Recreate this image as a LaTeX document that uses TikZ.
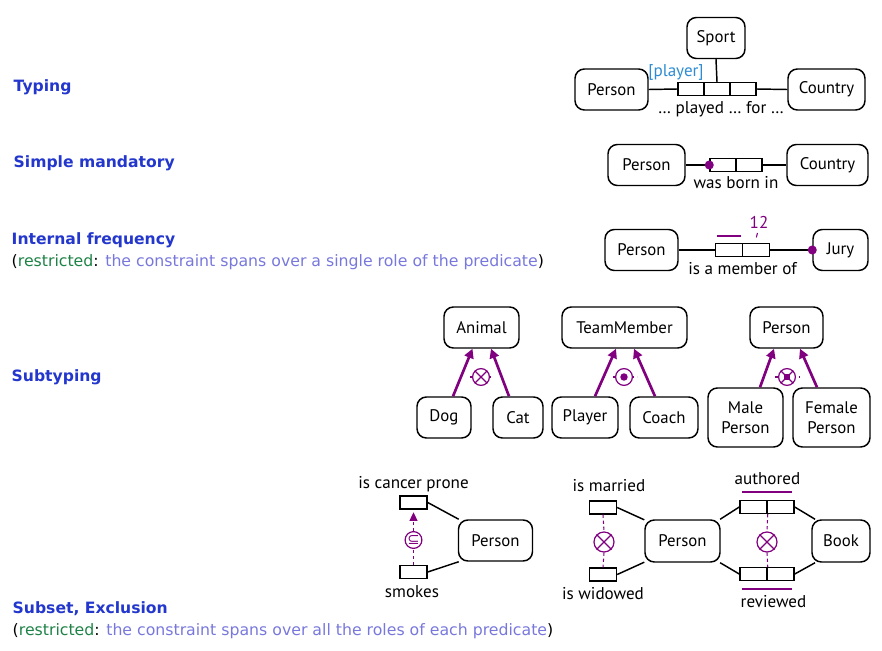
\documentclass[tikz,border=0pt]{standalone}
\usepackage{fontspec}
\setmainfont{PT Sans}
\newfontfamily\pagefont{DejaVu Sans}
\usetikzlibrary{arrows.meta}
\definecolor{ormviolet}{RGB}{128,0,128}
\definecolor{headblue}{RGB}{35,55,205}
\definecolor{restrgreen}{RGB}{30,130,70}
\definecolor{explblue}{RGB}{120,120,220}
\definecolor{roleblue}{RGB}{45,140,210}
\begin{document}
\begin{tikzpicture}[x=0.75pt,y=-0.75pt,line width=1.1pt,
	ent/.style={draw,rounded corners=7pt,minimum height=30.75pt,inner sep=0pt,font=\fontsize{12.6}{15}\selectfont},
	role/.style={draw,minimum width=19.5pt,minimum height=9.5pt,inner sep=0pt},
	lbl/.style={inner sep=0pt,font=\fontsize{12.8}{15}\selectfont},
	head/.style={anchor=west,inner sep=0pt,text=headblue,font=\pagefont\fontsize{11.7}{14}\selectfont\bfseries},
	note/.style={anchor=west,inner sep=0pt,font=\pagefont\fontsize{11.8}{14}\selectfont},
	subarr/.style={ormviolet,line width=2pt,-{Triangle[length=7pt,width=7pt]}},
	cons/.style={circle,draw=ormviolet,fill=white,line width=0.9pt,minimum size=12.6pt,inner sep=0pt},
	lnk/.style={ormviolet,line width=0.8pt,dash pattern=on 2.5pt off 2pt},
	uniq/.style={ormviolet,line width=1.5pt}]
\useasboundingbox (0,0) rectangle (882,650);
	%	\draw[gray!20] (0,0) grid[step=50] (882,650);
	% headings
	\path (13,87)node[head](htyp){Typing}
	(13,163)node[head](hmand){Simple mandatory}
	(11,240)node[head](hfreq){Internal frequency}
	(11,262)node[note](nfreq){(\textcolor{restrgreen}{restricted}: \textcolor{explblue}{the constraint spans over a single role of the predicate})}
	(11,377)node[head](hsubt){Subtyping}
	(12,609)node[head](hsubs){Subset, Exclusion}
	(12,631)node[note](nsubs){(\textcolor{restrgreen}{restricted}: \textcolor{explblue}{the constraint spans over all the roles of each predicate})};
	% typing
	\node[ent,minimum width=43.5pt] (sport) at (716,38) {Sport};
	\node[ent,minimum width=54.75pt] (per1) at (611.5,89.5) {Person};
	\node[ent,minimum width=57.75pt] (cty1) at (826.5,89.5) {Country};
	\node[role] (pf1) at (691,89) {};
	\node[role] (pf2) at (717,89) {};
	\node[role] (pf3) at (743,89) {};
	\draw (per1.east)--(pf1.west) (pf3.east)--(cty1.west) (sport.south)--(pf2.north);
	\path (676,72)node[lbl,text=roleblue](rname){[player]}
	(721,109)node[lbl](pfread){\dots\ played \dots\ for \dots};
	% simple mandatory
	\node[ent,minimum width=57.75pt] (per2) at (646.5,165) {Person};
	\node[ent,minimum width=60.75pt] (cty2) at (827.5,165) {Country};
	\node[role] (bi1) at (723,165) {};
	\node[role] (bi2) at (749,165) {};
	\draw (per2.east)--(bi1.west) (bi2.east)--(cty2.west);
	\fill[ormviolet] (bi1.west) circle (3.4pt);
	\node[lbl] (biread) at (736,183) {was born in};
	% internal frequency
	\node[ent,minimum width=54.75pt] (per3) at (641.5,250) {Person};
	\node[ent,minimum width=41.25pt] (jury) at (840.5,250) {Jury};
	\node[role,minimum width=20.25pt] (mo1) at (729,250) {};
	\node[role,minimum width=20.25pt] (mo2) at (756,250) {};
	\draw (per3.east)--(mo1.west) (mo2.east)--(jury.west);
	\fill[ormviolet] (jury.west) circle (3.4pt);
	\draw[uniq] ([shift={(2,-7)}]mo1.north west)--([shift={(-2,-7)}]mo1.north east);
	\node[lbl,text=ormviolet] (freq) at (759,222) {12};
	\draw[ormviolet,line width=0.8pt] ([shift={(1.5,-10)}]mo2.north)--([shift={(0.3,-5.5)}]mo2.north);
	\node[lbl] (moread) at (742.5,269) {is a member of};
	% subtyping
	\node[ent,minimum width=56.25pt] (animal) at (481.5,327.5) {Animal};
	\node[ent,minimum width=40.5pt] (dog) at (444,417.5) {Dog};
	\node[ent,minimum width=37.5pt] (cat) at (518,417.5) {Cat};
	\node[ent,minimum width=93.75pt] (tmem) at (624.5,327.5) {TeamMember};
	\node[ent,minimum width=49.5pt] (player) at (585,417.5) {Player};
	\node[ent,minimum width=51pt] (coach) at (664,417.5) {Coach};
	\node[ent,minimum width=54.75pt] (per4) at (786.5,327.5) {Person};
	\node[ent,minimum width=56.25pt,minimum height=44.25pt,align=center] (male) at (745.5,417.5) {Male\\Person};
	\node[ent,minimum width=57.75pt,minimum height=44.25pt,align=center] (female) at (831.5,417.5) {Female\\Person};
	\draw[lnk] (470,377)--(493,377) (613,377)--(637,377) (775,377)--(800,377);
	\draw[subarr] ([shift={(9,0)}]dog.north)--([shift={(-9,0)}]animal.south);
	\draw[subarr] ([shift={(-9,0)}]cat.north)--([shift={(9.5,0)}]animal.south);
	\draw[subarr] ([shift={(10,0)}]player.north)--([shift={(-8.5,0)}]tmem.south);
	\draw[subarr] ([shift={(-9,0)}]coach.north)--([shift={(9.5,0)}]tmem.south);
	\draw[subarr] ([shift={(14.5,0)}]male.north)--([shift={(-12.5,0)}]per4.south);
	\draw[subarr] ([shift={(-14.5,0)}]female.north)--([shift={(13.5,0)}]per4.south);
	\node[cons] (excl1) at (481,377) {};
	\node[cons] (total) at (624,377) {};
	\node[cons] (part) at (787,377) {};
	\fill[ormviolet] (total) circle (2.8pt);
	% subset
	\node[lbl] (cpread) at (413.5,484) {is cancer prone};
	\node[role,minimum width=20.25pt] (canc) at (413.5,502.5) {};
	\node[role,minimum width=20.25pt] (smok) at (413.5,572) {};
	\node[lbl] (smread) at (412,592) {smokes};
	\node[ent,minimum width=55.5pt] (per5) at (495.5,540.5) {Person};
	\draw (canc.east)--(per5.150) (smok.east)--(per5.210);
	\node[cons,text=ormviolet,font=\pagefont\fontsize{11}{11}\selectfont] (sset) at (413.5,540) {⊆};
	\draw[lnk] (smok.north)--(sset.south);
	\draw[lnk,-{Triangle[length=6.5pt,width=6pt]},shorten >=2pt] (sset.north)--(canc.south);
	% exclusion
	\node[lbl] (maread) at (609,486) {is married};
	\node[role,minimum width=20.25pt] (marr) at (603,507.5) {};
	\node[role,minimum width=20.25pt] (widw) at (603,574.5) {};
	\node[lbl] (wiread) at (603,594) {is widowed};
	\node[ent,minimum width=56.25pt,minimum height=31.5pt] (per6) at (682.5,541) {Person};
	\node[role,minimum width=20.25pt] (aut1) at (753.5,507) {};
	\node[role,minimum width=20.25pt] (aut2) at (780.5,507) {};
	\node[role,minimum width=20.25pt] (rev1) at (753.5,574) {};
	\node[role,minimum width=20.25pt] (rev2) at (780.5,574) {};
	\node[ent,minimum width=43.5pt,minimum height=31.5pt] (book) at (841,541) {Book};
	\node[lbl] (auread) at (767.5,479) {authored};
	\node[lbl] (rvread) at (773.5,602) {reviewed};
	\draw (marr.east)--(per6.151) (widw.east)--(per6.209)
	(per6.30)--(aut1.west) (per6.-30)--(rev1.west)
	(aut2.east)--(book.140) (rev2.east)--(book.220);
	\draw[uniq] ([shift={(3,-8)}]aut1.north west)--([shift={(-3,-8)}]aut2.north east);
	\draw[uniq] ([shift={(3,8)}]rev1.south west)--([shift={(-3,8)}]rev2.south east);
	\node[cons,minimum size=15pt] (excl2) at (604,542) {};
	\node[cons,minimum size=15pt] (excl3) at (767,542) {};
	\draw[lnk] (marr.south)--(excl2.north) (excl2.south)--(widw.north)
	(aut1.south east)--(excl3.north) (excl3.south)--(rev1.north east);
	\foreach \c in {excl1,part,excl2,excl3}
	\draw[ormviolet,line width=0.9pt] (\c.north west)--(\c.south east) (\c.north east)--(\c.south west);
	\fill[ormviolet] ([shift={(-3,-3)}]part.center) rectangle ([shift={(3,3)}]part.center);
\end{tikzpicture}
\end{document}
